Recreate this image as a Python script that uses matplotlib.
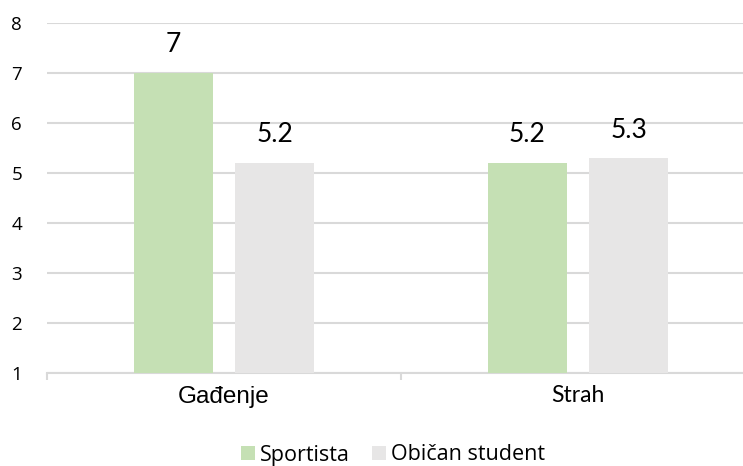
import matplotlib
matplotlib.use("Agg")
import matplotlib.pyplot as plt
import numpy as np
from matplotlib.patches import Patch

categories = ["Gađenje", "Strah"]
series_names = ["Sportista", "Običan student"]
sportista = [7.0, 5.2]
obican = [5.2, 5.3]
value_labels_s = ["7", "5.2"]
value_labels_o = ["5.2", "5.3"]
y_ticks = [1, 2, 3, 4, 5, 6, 7, 8]

green = "#C5E0B4"
grey = "#E7E6E6"
gridc = "#D9D9D9"

fig = plt.figure(figsize=(7.43, 4.66), dpi=100)
ax = fig.add_axes([47/743, 93/466, 1 - 47/743, (373-23)/466])

x = np.arange(len(categories))
w = 0.223
off = 0.143
ax.bar(x - off, np.array(sportista) - 1, w, bottom=1, color=green, zorder=3)
ax.bar(x + off, np.array(obican) - 1, w, bottom=1, color=grey, zorder=3)

for xi, v, t in zip(x - off, sportista, value_labels_s):
    ax.text(xi, v + 0.31, t, ha="center", va="bottom", fontsize=19, family="Lato")
for xi, v, t in zip(x + off, obican, value_labels_o):
    ax.text(xi, v + 0.31, t, ha="center", va="bottom", fontsize=19, family="Lato")

ax.set_yticks(y_ticks)
ax.set_yticklabels([str(t) for t in y_ticks], family="Open Sans", fontsize=13.5)
ax.tick_params(axis="y", length=0, pad=18)
ax.yaxis.grid(True, color=gridc, linewidth=1.5, zorder=0)
ax.set_axisbelow(True)

ax.set_xticks(x)
ax.set_xticklabels(categories)
labs = ax.get_xticklabels()
labs[0].set_fontsize(17.5)
labs[0].set_family("Liberation Sans")
labs[1].set_fontsize(16.5)
labs[1].set_family("Lato")
ax.tick_params(axis="x", which="major", length=0, pad=9)
ax.set_xticks([-0.5, 0.5, 1.5], minor=True)
ax.tick_params(axis="x", which="minor", length=5, color=gridc, width=1.5)

ax.set_xlim(-0.5, 1.466)
ax.set_ylim(1, 8)

for s in ["left", "right", "top"]:
    ax.spines[s].set_visible(False)
ax.spines["bottom"].set_color(gridc)
ax.spines["bottom"].set_linewidth(1.5)

handles = [Patch(facecolor=green), Patch(facecolor=grey)]
fig.legend(handles, series_names, loc="center", bbox_to_anchor=(393/743, 1 - 455/466),
           ncol=2, frameon=False, prop={"family": "Open Sans", "size": 15.5},
           handlelength=0.65, handleheight=0.65, handletextpad=0.25, columnspacing=1.0,
           borderpad=0, borderaxespad=0)

fig.savefig("out.png", dpi=100)
